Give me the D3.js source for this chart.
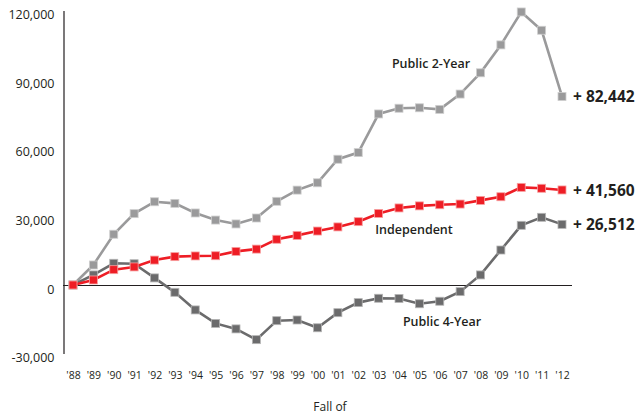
<!DOCTYPE html>
<html>
<head>
<meta charset="utf-8">
<script src="https://cdn.jsdelivr.net/npm/d3@7"></script>
<style>
  body { margin: 0; background: #fff; }
  svg { display: block; font-family: "Open Sans", sans-serif; }
</style>
</head>
<body>
<div id="chart"></div>
<script>
// fall enrollment change since 1988
var years = ["'88","'89","'90","'91","'92","'93","'94","'95","'96","'97","'98","'99","'00",
  "'01","'02","'03","'04","'05","'06","'07","'08","'09","'10","'11","'12"];

var public2 = [0, 8750, 22200, 31200, 36400, 35700, 31500, 28400, 26700, 29300, 36600, 41500,
  44700, 55000, 57900, 74800, 77300, 77500, 76800, 83500, 92800, 105000, 119400, 111400, 82442];

var independent = [0, 2200, 6700, 7900, 10900, 12400, 12700, 12800, 14700, 15700, 20000, 21700,
  23600, 25400, 27700, 31300, 33700, 34600, 35100, 35400, 37000, 38600, 42700, 42300, 41560];

var public4 = [0, 4400, 9500, 9300, 3100, -3200, -10900, -16800, -19200, -23900, -15600, -15300,
  -18700, -12100, -7700, -5800, -5900, -8200, -7100, -2900, 4400, 15300, 26100, 29600, 26512];

var yTicks = [-30000, 0, 30000, 60000, 90000, 120000];

var width = 642, height = 416;

var svg = d3.select('#chart').append('svg')
  .attr('width', width)
  .attr('height', height);

var x = d3.scalePoint().domain(years).range([73, 562]);
var y = d3.scaleLinear().domain([-30000, 120000]).range([353.6, 10.6]);

// plain hyphen for negatives, like the original
var fmt = function(d) { return d3.format(',')(d).replace('\u2212', '-'); };

// y axis
var yAxis = svg.append('g')
  .attr('transform', 'translate(63.5,0)')
  .call(d3.axisLeft(y).tickValues(yTicks).tickSize(0).tickPadding(9).tickFormat(fmt));
yAxis.select('.domain').attr('stroke', '#231f20').attr('stroke-width', 1.2);
yAxis.selectAll('text')
  .attr('font-size', 12.5)
  .attr('fill', '#231f20')
  .attr('font-family', '"Open Sans", sans-serif')
  .attr('dy', '0.65em');

// zero line
svg.append('line')
  .attr('x1', 63).attr('x2', 572)
  .attr('y1', y(0) + 0.5).attr('y2', y(0) + 0.5)
  .attr('stroke', '#231f20').attr('stroke-width', 1.1);

// x axis labels (no line)
var xAxis = svg.append('g')
  .attr('transform', 'translate(0,372)')
  .call(d3.axisBottom(x).tickSize(0).tickPadding(0));
xAxis.select('.domain').remove();
xAxis.selectAll('text')
  .attr('font-size', 10.5)
  .attr('fill', '#231f20')
  .attr('font-family', '"Open Sans", sans-serif');

svg.append('text')
  .attr('x', 330).attr('y', 411)
  .attr('text-anchor', 'middle')
  .attr('font-size', 12)
  .attr('fill', '#231f20')
  .text('Fall of');

var series = [
  { values: public2, color: '#9a9a9b', edge: '#cfcfcf' },
  { values: public4, color: '#6b6b6c', edge: '#b5b5b5' },
  { values: independent, color: '#ee1d25', edge: '#f7a0a0' }
];

var line = d3.line()
  .x(function(d, i) { return x(years[i]); })
  .y(function(d) { return y(d); });

series.forEach(function(s) {
  svg.append('path')
    .datum(s.values)
    .attr('fill', 'none')
    .attr('stroke', s.color)
    .attr('stroke-width', 2.6)
    .attr('d', line);
  svg.selectAll(null)
    .data(s.values)
    .enter()
    .append('rect')
    .attr('x', function(d, i) { return x(years[i]) - 4; })
    .attr('y', function(d) { return y(d) - 4; })
    .attr('width', 8)
    .attr('height', 8)
    .attr('fill', s.color)
    .attr('stroke', s.edge)
    .attr('stroke-width', 0.8);
});

// series names
var names = [
  { text: 'Public 2-Year', x: 431, y: 68 },
  { text: 'Independent', x: 414, y: 234 },
  { text: 'Public 4-Year', x: 442, y: 326 }
];
svg.selectAll('.name')
  .data(names)
  .enter()
  .append('text')
  .attr('class', 'name')
  .attr('x', function(d) { return d.x; })
  .attr('y', function(d) { return d.y; })
  .attr('text-anchor', 'middle')
  .attr('font-size', 12.5)
  .attr('font-weight', 600)
  .attr('fill', '#231f20')
  .text(function(d) { return d.text; });

// end values
var ends = [public2, independent, public4];
svg.selectAll('.endval')
  .data(ends)
  .enter()
  .append('text')
  .attr('class', 'endval')
  .attr('x', 573)
  .attr('y', function(d) { return y(d[d.length - 1]); })
  .attr('dy', '0.36em')
  .attr('font-size', 15.5)
  .attr('font-weight', 700)
  .attr('fill', '#231f20')
  .text(function(d) { return '+ ' + fmt(d[d.length - 1]); });
</script>
</body>
</html>
